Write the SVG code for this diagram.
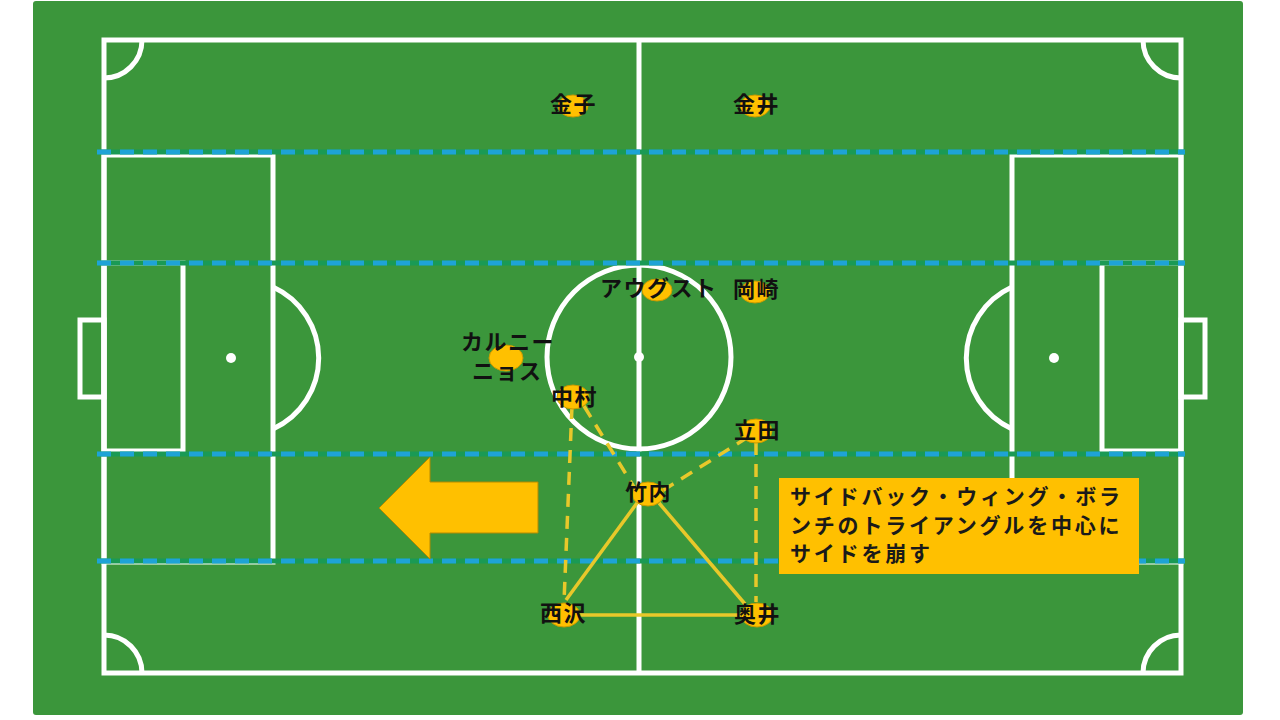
<svg xmlns="http://www.w3.org/2000/svg" width="1280" height="720" viewBox="0 0 1280 720">
<style>
.line{fill:none;stroke:#FFFFFF;stroke-width:5}
.zone-base{stroke:#1A9A55;stroke-width:5}
.zone{stroke:#1EA3D6;stroke-width:5;stroke-dasharray:14 9}
.pl{fill:#FFC000;stroke:#C99A00;stroke-width:1}
.lbl{font-family:"Noto Sans CJK JP","Noto Sans CJK SC",sans-serif;font-size:22px;font-weight:bold;fill:#111111;letter-spacing:1.5px}
.dash{stroke:#E8C82A;stroke-width:3.5;stroke-dasharray:13 9;fill:none}
.solid{stroke:#E8C82A;stroke-width:3.5;fill:none}
.note{font-family:"Noto Sans CJK JP","Noto Sans CJK SC",sans-serif;font-size:21px;font-weight:bold;fill:#1A1A1A;letter-spacing:2.8px}
</style>
<rect x="0" y="0" width="1280" height="720" fill="#FFFFFF"/>
<g id="pitch">
<rect x="33" y="1" width="1210" height="714" rx="3" fill="#3B963B"/>
<rect class="line" x="104" y="40" width="1077" height="633"/>
<line class="line" x1="639" y1="40" x2="639" y2="673"/>
<circle class="line" cx="639" cy="357" r="92"/>
<circle cx="639" cy="357" r="5" fill="#FFFFFF"/>
<rect class="line" x="104" y="155" width="169" height="407"/>
<rect class="line" x="104" y="263" width="79" height="188"/>
<rect class="line" x="80" y="320" width="24" height="77"/>
<circle cx="231" cy="358" r="5" fill="#FFFFFF"/>
<path class="line" d="M273,287 A78,78 0 0 1 273,429"/>
<rect class="line" x="1012" y="155" width="169" height="407"/>
<rect class="line" x="1102" y="263" width="79" height="188"/>
<rect class="line" x="1181" y="320" width="24" height="77"/>
<circle cx="1054" cy="358" r="5" fill="#FFFFFF"/>
<path class="line" d="M1012,287 A78,78 0 0 0 1012,429"/>
<path class="line" d="M142,40 A38,38 0 0 1 104,78"/>
<path class="line" d="M1143,40 A38,38 0 0 0 1181,78"/>
<path class="line" d="M104,635 A38,38 0 0 1 142,673"/>
<path class="line" d="M1181,635 A38,38 0 0 0 1143,673"/>
</g>
<g id="zones">
<line class="zone-base" x1="97" y1="152" x2="1185" y2="152"/>
<line class="zone" x1="97" y1="152" x2="1185" y2="152"/>
<line class="zone-base" x1="97" y1="263" x2="1185" y2="263"/>
<line class="zone" x1="97" y1="263" x2="1185" y2="263"/>
<line class="zone-base" x1="97" y1="454" x2="1185" y2="454"/>
<line class="zone" x1="97" y1="454" x2="1185" y2="454"/>
<line class="zone-base" x1="97" y1="561" x2="1185" y2="561"/>
<line class="zone" x1="97" y1="561" x2="1185" y2="561"/>
</g>
<g id="arrow">
<polygon points="379,508 430,457 430,482 538,482 538,533 430,533 430,559" fill="#FFC000" stroke="#B58A00" stroke-width="1"/>
</g>
<g id="connectors">
<line class="dash" x1="572" y1="406" x2="564" y2="602"/>
<line class="dash" x1="584" y1="406" x2="634" y2="487"/>
<line class="dash" x1="748" y1="437" x2="662" y2="491"/>
<line class="dash" x1="756" y1="442" x2="756" y2="602"/>
<line class="solid" x1="637" y1="503" x2="566" y2="600"/>
<line class="solid" x1="659" y1="503" x2="745" y2="604"/>
<line class="solid" x1="580" y1="615" x2="741" y2="615"/>
</g>
<g id="p-kaneko"><ellipse class="pl" cx="573" cy="106" rx="15" ry="11"/><text class="lbl" x="550" y="112">金子</text></g>
<g id="p-kanai"><ellipse class="pl" cx="755" cy="106" rx="15" ry="11"/><text class="lbl" x="733" y="112">金井</text></g>
<g id="p-augusto"><ellipse class="pl" cx="657" cy="290" rx="15" ry="11"/><text class="lbl" x="600" y="296">アウグスト</text></g>
<g id="p-okazaki"><ellipse class="pl" cx="755" cy="292" rx="15" ry="11"/><text class="lbl" x="733" y="297">岡崎</text></g>
<g id="p-carlinhos"><ellipse class="pl" cx="506" cy="358" rx="17" ry="13"/><text class="lbl" x="461" y="350">カルニー</text><text class="lbl" x="472" y="379">ニョス</text></g>
<g id="p-nakamura"><ellipse class="pl" cx="573" cy="397" rx="16" ry="12"/><text class="lbl" x="551" y="405">中村</text></g>
<g id="p-tatsuta"><ellipse class="pl" cx="756" cy="431" rx="16" ry="12"/><text class="lbl" x="734" y="438">立田</text></g>
<g id="p-takeuchi"><ellipse class="pl" cx="648" cy="494" rx="16" ry="12"/><text class="lbl" x="625" y="500">竹内</text></g>
<g id="p-nishizawa"><ellipse class="pl" cx="564" cy="615" rx="16" ry="12"/><text class="lbl" x="540" y="621">西沢</text></g>
<g id="p-okui"><ellipse class="pl" cx="757" cy="615" rx="16" ry="12"/><text class="lbl" x="734" y="622">奥井</text></g>
<g id="note">
<rect x="779" y="478" width="360" height="96" fill="#FFC000"/>
<text class="note" x="790" y="504">サイドバック・ウィング・ボラ</text>
<text class="note" x="790" y="533">ンチのトライアングルを中心に</text>
<text class="note" x="790" y="561">サイドを崩す</text>
</g>
</svg>
